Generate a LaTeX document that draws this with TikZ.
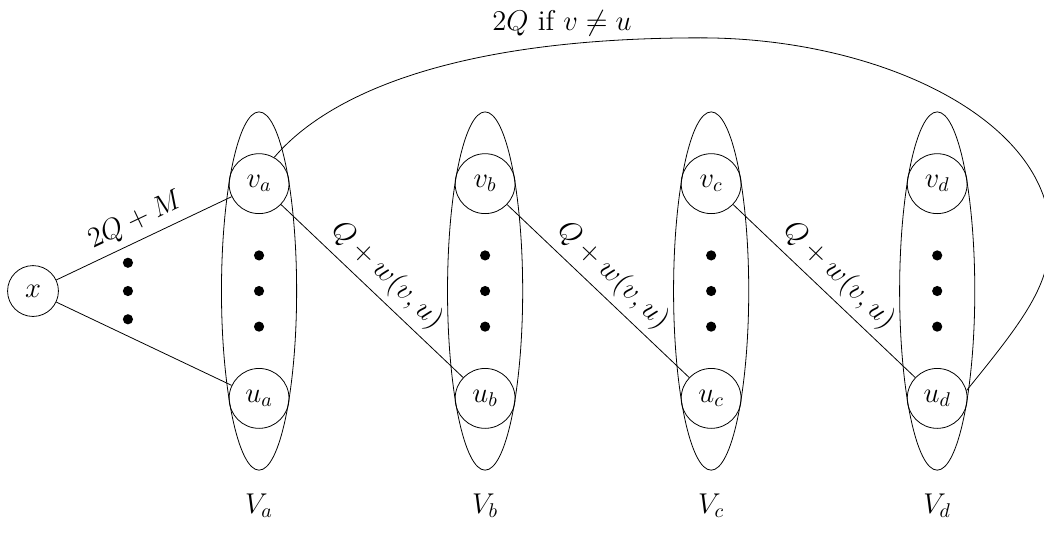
\documentclass[tikz,border=0pt]{standalone}
\usepackage{amsmath}
\usepackage{amssymb}
\usetikzlibrary{positioning}
\usetikzlibrary{shapes.geometric}

\begin{document}
\begin{tikzpicture}[font=\Large,
    vert/.style={circle, draw, minimum size=1.06cm, inner sep=0pt},
    part/.style={ellipse, draw, minimum width=1.33cm, minimum height=6.34cm},
    pt/.style={circle, fill, inner sep=0pt, minimum size=0.18cm}]
    \useasboundingbox (-0.584,-4.62) rectangle (17.89,5.15);

    \node[vert, minimum size=0.9cm] (x) at (0,0) {$x$};
    \foreach \yy [count=\i] in {0.5,0,-0.5}
        \node[pt] (xdot\i) at (1.68,\yy) {};

    % one column per part
    \foreach \c/\xx in {a/4, b/8, c/12, d/16} {
        \node[part] (P\c) at (\xx,0) {};
        \node[vert] (v\c) at (\xx,1.9) {$v_\c$};
        \node[vert] (u\c) at (\xx,-1.9) {$u_\c$};
        \foreach \yy [count=\i] in {0.63,0,-0.63}
            \node[pt] (dot\c\i) at (\xx,\yy) {};
        \node (V\c) at (\xx,-3.8) {$V_\c$};
    }

    \draw (x) -- node[sloped, above, pos=0.5] (wxv) {$2Q + M$} (va);
    \draw (x) -- (ua);
    \foreach \s/\t in {a/b, b/c, c/d}
        \draw (v\s) -- node[sloped, above] (w\s\t) {$Q + w(v,u)$} (u\t);

    % wrap-around edge
    \draw (va.60) .. controls (5.19,3.45) and (7.38,4.48) .. (11.81,4.48)
        .. controls (14.99,4.48) and (18.0,3.03) .. (18.0,0.99)
        .. controls (18.0,0.11) and (17.56,-0.48) .. (ud.15);
    \node (wvu) at (9.36,4.74) {$2Q$ if $v \neq u$};
\end{tikzpicture}
\end{document}
